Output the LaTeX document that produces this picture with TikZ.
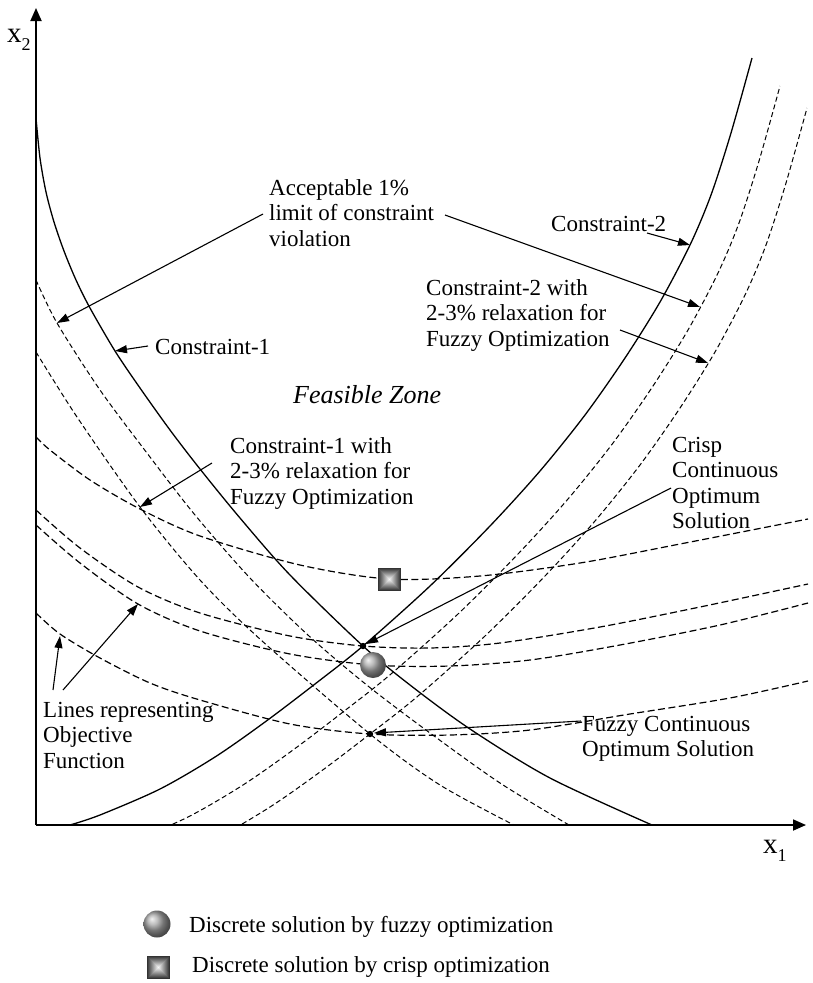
\documentclass[tikz,border=0pt]{standalone}
\usepackage{fontspec}
\setmainfont{Liberation Serif}
\usetikzlibrary{arrows.meta}
\begin{document}
\begin{tikzpicture}[x=1pt,y=-1pt,
  axisline/.style={line width=1.8pt,-{Triangle[length=13pt,width=11pt]}},
  limitcurve/.style={line width=1.3pt},
  relaxcurve/.style={line width=1pt,dash pattern=on 5pt off 3pt},
  objcurve/.style={line width=1.2pt,dash pattern=on 7pt off 3.5pt},
  callout/.style={line width=1.1pt,-{Triangle[length=12pt,width=8pt]}},
  lbl/.style={font=\fontsize{23}{25.6}\selectfont,align=left,inner sep=0pt,anchor=north west},
  onelbl/.style={font=\fontsize{23}{25.6}\selectfont,inner sep=0pt,anchor=base west},
  axislbl/.style={font=\fontsize{29}{29}\selectfont,inner sep=0pt,anchor=base west},
]
\useasboundingbox (0,0) rectangle (812,983);

% ---------- axes ----------
\coordinate (O) at (36,825);
\coordinate (ytop) at (36,8);
\coordinate (xend) at (806,825);
\draw[axisline] (O) -- (ytop);
\draw[axisline] (O) -- (xend);
\node[axislbl] (x2lab) at (7,42) {x\raisebox{-8pt}{\fontsize{18}{18}\selectfont 2}};
\node[axislbl] (x1lab) at (763,853) {x\raisebox{-8pt}{\fontsize{18}{18}\selectfont 1}};

% ---------- curves ----------
\begin{scope}
\clip (36,0) rectangle (812,825);
% constraint 1 and its relaxations
\draw[limitcurve] plot[smooth] coordinates {(36,118) (40,158) (46,192) (54,222) (64,251) (76,280) (90,308) (115,351) (140,388) (170,430) (200,469) (240,518) (290,575) (363,646) (410,685) (470,729) (550,778) (652,825)};
\draw[relaxcurve] plot[smooth] coordinates {(36,280) (57,323) (100,390) (150,457) (195,515) (250,578) (309,636) (368,686) (430,733) (500,783) (569,825)};
\draw[relaxcurve] plot[smooth] coordinates {(36,352) (77,417) (140,507) (200,580) (261,640) (370,734) (440,785) (514,825)};
% constraint 2 and its relaxations
\draw[limitcurve] plot[smooth] coordinates {(70,825) (100,815) (160,789) (215,757) (265,722) (315,684) (363,646) (430,586) (490,526) (540,471) (585,415) (625,358) (660,302) (690,245) (711,195) (731,133) (752,58)};
\draw[relaxcurve,shift={(28,28)}] plot[smooth] coordinates {(70,825) (100,815) (160,789) (215,757) (265,722) (315,684) (363,646) (430,586) (490,526) (540,471) (585,415) (625,358) (660,302) (690,245) (711,195) (731,133) (752,58)};
\draw[relaxcurve,shift={(55,50)}] plot[smooth] coordinates {(70,825) (100,815) (160,789) (215,757) (265,722) (315,684) (363,646) (430,586) (490,526) (540,471) (585,415) (625,358) (660,302) (690,245) (711,195) (731,133) (752,58)};
% objective function levels
\draw[objcurve] plot[smooth] coordinates {(36,437) (50,450) (90,480) (140,509) (200,536) (300,565) (389,579) (480,576) (580,563) (680,544) (808,519)};
\draw[objcurve] plot[smooth] coordinates {(36,510) (80,548) (138,587) (200,613) (290,636) (363,646) (430,648) (500,643) (600,627) (700,607) (808,584)};
\draw[objcurve] plot[smooth] coordinates {(36,525) (80,563) (138,604) (200,631) (290,654) (373,665) (450,666) (530,660) (620,645) (720,625) (808,603)};
\draw[objcurve] plot[smooth] coordinates {(36,613) (60,634) (100,658) (150,683) (200,700) (290,724) (370,734) (450,735) (530,730) (630,714) (730,698) (808,681)};
\end{scope}

% ---------- solution points ----------
\coordinate (crisp) at (363,646);
\coordinate (fuzzy) at (370,734);
\coordinate (sph) at (373,665);
\coordinate (sq) at (389,579);
\fill (crisp) circle (3.2pt);
\fill (fuzzy) circle (3.2pt);
\shade[ball color=gray!70] (sph) circle (13pt);
\foreach \k in {0,...,11} {
  \pgfmathsetmacro\hs{11.5-\k}
  \pgfmathtruncatemacro\cc{80-\k*7}
  \fill[black!\cc, shift={(sq)}] (-\hs,-\hs) rectangle (\hs,\hs);
}

% ---------- labels ----------
\node[lbl] (acc) at (269,177) {\strut Acceptable 1\%\\limit of constraint\\violation};
\node[onelbl] (c2) at (551,231) {Constraint-2};
\node[lbl] (c2r) at (426,277) {\strut Constraint-2 with\\2-3\% relaxation for\\Fuzzy Optimization};
\node[onelbl] (c1) at (155,354) {Constraint-1};
\node[onelbl,font=\fontsize{26}{28}\selectfont\itshape] (fz) at (293,403) {Feasible Zone};
\node[lbl] (c1r) at (230,435) {\strut Constraint-1 with\\2-3\% relaxation for\\Fuzzy Optimization};
\node[lbl] (crl) at (672,434) {\strut Crisp\\Continuous\\Optimum\\Solution};
\node[lbl] (objl) at (43,699) {\strut Lines representing\\Objective\\Function};
\node[lbl] (fzl) at (582,713) {\strut Fuzzy Continuous\\Optimum Solution};

% ---------- callout arrows ----------
\coordinate (accL) at (263,214);   \coordinate (accLtip) at (57,323);
\coordinate (accR) at (445,215);   \coordinate (accRtip) at (700,307);
\coordinate (c2s) at (647,233);    \coordinate (c2tip) at (690,245);
\coordinate (c2rs) at (620,330);   \coordinate (c2rtip) at (708,363);
\coordinate (c1s) at (148,346);    \coordinate (c1tip) at (115,351);
\coordinate (c1rs) at (212,463);   \coordinate (c1rtip) at (140,507);
\coordinate (crs) at (671,488);    \coordinate (crtip) at (366,644);
\coordinate (ln1) at (53,690);     \coordinate (ln1tip) at (60,636);
\coordinate (ln2) at (63,690);     \coordinate (ln2tip) at (138,604);
\coordinate (fzs) at (581,721);    \coordinate (fztip) at (374,733);
\draw[callout] (accL) -- (accLtip);
\draw[callout] (accR) -- (accRtip);
\draw[callout] (c2s) -- (c2tip);
\draw[callout] (c2rs) -- (c2rtip);
\draw[callout] (c1s) -- (c1tip);
\draw[callout] (c1rs) -- (c1rtip);
\draw[callout] (crs) -- (crtip);
\draw[callout] (ln1) -- (ln1tip);
\draw[callout] (ln2) -- (ln2tip);
\draw[callout] (fzs) -- (fztip);

% ---------- legend ----------
\coordinate (lsph) at (157,924);
\coordinate (lsq) at (158,967);
\shade[ball color=gray!70] (lsph) circle (13.5pt);
\foreach \k in {0,...,11} {
  \pgfmathsetmacro\hs{11.5-\k}
  \pgfmathtruncatemacro\cc{80-\k*7}
  \fill[black!\cc, shift={(lsq)}] (-\hs,-\hs) rectangle (\hs,\hs);
}
\node[onelbl] (leg1) at (189,932) {Discrete solution by fuzzy optimization};
\node[onelbl] (leg2) at (192,972) {Discrete solution by crisp optimization};
\end{tikzpicture}
\end{document}
